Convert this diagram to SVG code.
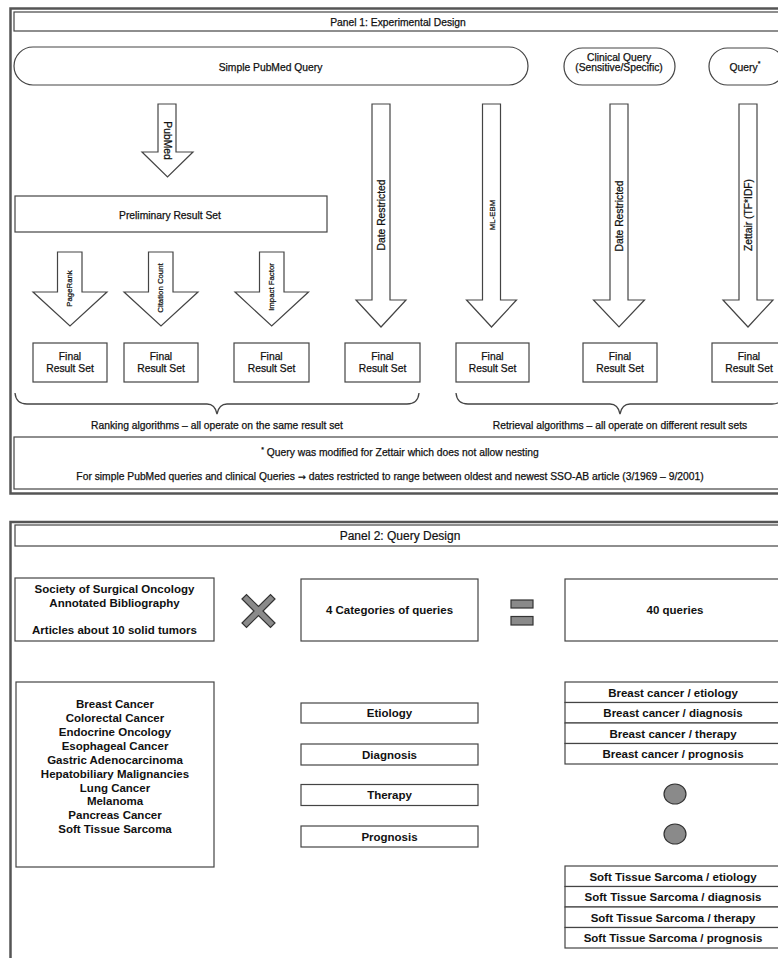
<svg xmlns="http://www.w3.org/2000/svg" width="778" height="958" viewBox="0 0 778 958">
<style>
  text { font-family: "Liberation Sans", Arial, sans-serif; fill: #111; }
  .t1 { font-size: 10.3px; text-anchor: middle; stroke: #111; stroke-width: 0.25; }
  .t2 { font-size: 11.5px; font-weight: bold; text-anchor: middle; }
  .ttl2 { font-size: 12px; text-anchor: middle; stroke: #111; stroke-width: 0.2; }
  .sm { font-size: 7.8px; text-anchor: middle; stroke: #111; stroke-width: 0.25; }
  .box { fill: #fff; stroke: #444; stroke-width: 1.2; }
  .panel { fill: none; stroke: #555; stroke-width: 2.5; }
  .arrow { fill: #fff; stroke: #444; stroke-width: 1.2; stroke-linejoin: miter; }
  .brace { fill: none; stroke: #444; stroke-width: 1.3; }
  .gray { fill: #8a8a8a; stroke: #333; stroke-width: 1.2; }
</style>

<!-- Panel 1 -->
<g id="panel1">
  <rect class="panel" x="10.5" y="8.5" width="780" height="485"/>
  <rect class="box" x="14" y="12" width="772" height="19"/>
  <text class="t1" x="398" y="25.5">Panel 1: Experimental Design</text>
</g>

<g id="simple-query">
  <rect class="box" x="14" y="47" width="514" height="38" rx="19" ry="19"/>
  <text class="t1" x="270.5" y="70.5">Simple PubMed Query</text>
</g>
<g id="clinical-query">
  <rect class="box" x="564" y="48" width="111" height="37" rx="18.5" ry="18.5"/>
  <text class="t1" x="619" y="61">Clinical Query</text>
  <text class="t1" x="619" y="71">(Sensitive/Specific)</text>
</g>
<g id="query-star">
  <rect class="box" x="709" y="48" width="76" height="37" rx="18.5" ry="18.5"/>
  <text class="t1" x="745" y="70.5">Query<tspan font-size="7" dy="-5">*</tspan></text>
</g>

<g id="preliminary">
  <rect class="box" x="15" y="196" width="312" height="36"/>
  <text class="t1" x="170" y="218.5">Preliminary Result Set</text>
</g>

<g id="final1"><rect class="box" x="33" y="343" width="74" height="39"/><text class="t1" x="70" y="360">Final</text><text class="t1" x="70" y="372">Result Set</text></g>
<g id="final2"><rect class="box" x="124" y="343" width="74" height="39"/><text class="t1" x="161" y="360">Final</text><text class="t1" x="161" y="372">Result Set</text></g>
<g id="final3"><rect class="box" x="234" y="343" width="75" height="39"/><text class="t1" x="271.5" y="360">Final</text><text class="t1" x="271.5" y="372">Result Set</text></g>
<g id="final4"><rect class="box" x="345" y="343" width="75" height="39"/><text class="t1" x="382.5" y="360">Final</text><text class="t1" x="382.5" y="372">Result Set</text></g>
<g id="final5"><rect class="box" x="456" y="343" width="73" height="39"/><text class="t1" x="492.5" y="360">Final</text><text class="t1" x="492.5" y="372">Result Set</text></g>
<g id="final6"><rect class="box" x="583" y="343" width="74" height="39"/><text class="t1" x="620" y="360">Final</text><text class="t1" x="620" y="372">Result Set</text></g>
<g id="final7"><rect class="box" x="712" y="343" width="74" height="39"/><text class="t1" x="749" y="360">Final</text><text class="t1" x="749" y="372">Result Set</text></g>

<g id="connectors">
  <!-- PubMed arrow -->
  <polygon class="arrow" points="158,104 176,104 176,152 193,152 167.5,177 142,152 158,152"/>
  <text class="t1" transform="translate(164,140.5) rotate(90)">PubMed</text>
  <!-- ranking arrows -->
  <polygon class="arrow" points="57.5,252 82,252 82,292 107,292 70,326 33,292 57.5,292"/>
  <text class="sm" transform="translate(71.5,288.5) rotate(-90)">PageRank</text>
  <polygon class="arrow" points="148.5,252 173,252 173,292 198,292 161,326 124,292 148.5,292"/>
  <text class="sm" transform="translate(163,288) rotate(-90)">Citation Count</text>
  <polygon class="arrow" points="259.5,252 284,252 284,292 308.5,292 271.7,326 235,292 259.5,292"/>
  <text class="sm" transform="translate(274,287) rotate(-90)">Impact Factor</text>
  <!-- retrieval arrows -->
  <polygon class="arrow" points="372,104 390,104 390,300 406,300 381,327 356,300 372,300"/>
  <text class="t1" transform="translate(384.5,215) rotate(-90)">Date Restricted</text>
  <polygon class="arrow" points="482.5,104 500.5,104 500.5,300 516.5,300 491.5,327 466.5,300 482.5,300"/>
  <text class="sm" transform="translate(494.5,215) rotate(-90)">ML-EBM</text>
  <polygon class="arrow" points="610,104 628,104 628,300 644.5,300 619,327 593.5,300 610,300"/>
  <text class="t1" transform="translate(622.5,216) rotate(-90)">Date Restricted</text>
  <polygon class="arrow" points="739,104 757,104 757,300 773,300 748,327 723,300 739,300"/>
  <text class="t1" transform="translate(751.5,215) rotate(-90)">Zettair (TF*IDF)</text>
  <!-- braces -->
  <path class="brace" d="M15,393 Q16,404 27,404 L207,404 Q215,404 217,414 Q219,404 227,404 L407,404 Q418,404 419,393"/>
  <path class="brace" d="M456,393 Q457,404 468,404 L610,404 Q618,404 620,414 Q622,404 630,404 L772,404 Q783,404 784,393"/>
</g>

<g id="labels">
  <text class="t1" x="217" y="428.5">Ranking algorithms – all operate on the same result set</text>
  <text class="t1" x="620" y="428.5">Retrieval algorithms – all operate on different result sets</text>
</g>

<g id="footnote">
  <rect class="box" x="14" y="437" width="772" height="52"/>
  <text class="t1" x="400" y="456"><tspan font-size="7" dy="-4">*</tspan><tspan dy="4"> Query was modified for Zettair which does not allow nesting</tspan></text>
  <text class="t1" x="390" y="480">For simple PubMed queries and clinical Queries <tspan font-family="'DejaVu Sans', sans-serif" font-size="9.5px">→</tspan> dates restricted to range between oldest and newest SSO-AB article (3/1969 – 9/2001)</text>
</g>

<!-- Panel 2 -->
<g id="panel2">
  <rect class="panel" x="10.5" y="522" width="780" height="450"/>
  <rect class="box" x="15" y="525" width="771" height="21"/>
  <text class="ttl2" x="400" y="540">Panel 2: Query Design</text>
</g>

<g id="sso">
  <rect class="box" x="15" y="578" width="199" height="63"/>
  <text class="t2" x="114.5" y="593">Society of Surgical Oncology</text>
  <text class="t2" x="114.5" y="607">Annotated Bibliography</text>
  <text class="t2" x="114.5" y="634">Articles about 10 solid tumors</text>
</g>

<g id="times">
  <polygon class="gray" points="242,599 246.5,594.5 258.5,606.5 270.5,594.5 275,599 263,611 275,623 270.5,627.5 258.5,615.5 246.5,627.5 242,623 254,611"/>
</g>

<g id="categories">
  <rect class="box" x="301" y="579" width="177" height="62"/>
  <text class="t2" x="389.5" y="614">4 Categories of queries</text>
</g>

<g id="equals">
  <rect class="gray" x="511" y="600" width="22" height="8"/>
  <rect class="gray" x="511" y="616.5" width="22" height="8.5"/>
</g>

<g id="forty">
  <rect class="box" x="565" y="579" width="220" height="62"/>
  <text class="t2" x="675" y="614">40 queries</text>
</g>

<g id="tumors">
  <rect class="box" x="16" y="682" width="198" height="185"/>
  <text class="t2" x="115" y="708">Breast Cancer</text>
  <text class="t2" x="115" y="722">Colorectal Cancer</text>
  <text class="t2" x="115" y="736">Endocrine Oncology</text>
  <text class="t2" x="115" y="749.5">Esophageal Cancer</text>
  <text class="t2" x="115" y="763.5">Gastric Adenocarcinoma</text>
  <text class="t2" x="115" y="777.5">Hepatobiliary Malignancies</text>
  <text class="t2" x="115" y="791.5">Lung Cancer</text>
  <text class="t2" x="115" y="805">Melanoma</text>
  <text class="t2" x="115" y="819">Pancreas Cancer</text>
  <text class="t2" x="115" y="833">Soft Tissue Sarcoma</text>
</g>

<g id="cat-etiology"><rect class="box" x="301" y="703" width="177" height="20"/><text class="t2" x="389.5" y="717">Etiology</text></g>
<g id="cat-diagnosis"><rect class="box" x="301" y="744" width="177" height="21"/><text class="t2" x="389.5" y="758.5">Diagnosis</text></g>
<g id="cat-therapy"><rect class="box" x="301" y="784.5" width="177" height="21"/><text class="t2" x="389.5" y="799">Therapy</text></g>
<g id="cat-prognosis"><rect class="box" x="301" y="826" width="177" height="21"/><text class="t2" x="389.5" y="840.5">Prognosis</text></g>

<g id="breast-list">
  <rect class="box" x="565" y="682" width="220" height="20.5"/>
  <rect class="box" x="565" y="702.5" width="220" height="20.5"/>
  <rect class="box" x="565" y="723" width="220" height="20.5"/>
  <rect class="box" x="565" y="743.5" width="220" height="20.5"/>
  <text class="t2" x="673" y="696.5">Breast cancer / etiology</text>
  <text class="t2" x="673" y="717">Breast cancer / diagnosis</text>
  <text class="t2" x="673" y="737.5">Breast cancer / therapy</text>
  <text class="t2" x="673" y="758">Breast cancer / prognosis</text>
</g>

<g id="ellipsis">
  <ellipse class="gray" cx="675" cy="794" rx="11" ry="10"/>
  <ellipse class="gray" cx="675" cy="834" rx="11" ry="10"/>
</g>

<g id="sarcoma-list">
  <rect class="box" x="565" y="866" width="220" height="20.5"/>
  <rect class="box" x="565" y="886.5" width="220" height="20.5"/>
  <rect class="box" x="565" y="907" width="220" height="20.5"/>
  <rect class="box" x="565" y="927.5" width="220" height="20.5"/>
  <text class="t2" x="673" y="880.5">Soft Tissue Sarcoma / etiology</text>
  <text class="t2" x="673" y="901">Soft Tissue Sarcoma / diagnosis</text>
  <text class="t2" x="673" y="921.5">Soft Tissue Sarcoma / therapy</text>
  <text class="t2" x="673" y="942">Soft Tissue Sarcoma / prognosis</text>
</g>
</svg>
